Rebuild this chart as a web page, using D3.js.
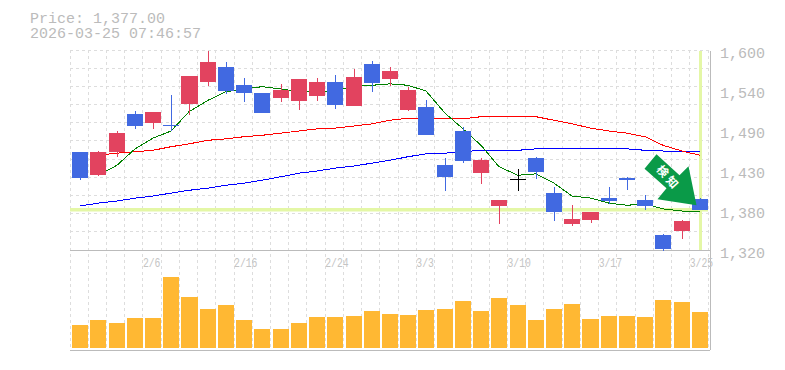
<!DOCTYPE html>
<html>
<head>
<meta charset="utf-8">
<script src="https://cdn.jsdelivr.net/npm/d3@7"></script>
<style>
  html, body { margin: 0; padding: 0; background: #fff; }
  svg { display: block; }
  text { font-family: "Liberation Mono", monospace; fill: #bbb; }
</style>
</head>
<body>
<div id="chart"></div>
<script>
var dates = ["2/2","2/3","2/4","2/5","2/6","2/9","2/10","2/12","2/13","2/16","2/17","2/18","2/19","2/20","2/24",
             "2/25","2/26","2/27","3/2","3/3","3/4","3/5","3/6","3/9","3/10","3/11","3/12","3/13","3/16","3/17",
             "3/18","3/19","3/23","3/24","3/25"];
var shown_dates = ["2/6","2/16","2/24","3/3","3/10","3/17","3/25"];
var open_values = [1459,1426,1459,1512,1499,1496,1526,1557,1578,1552,1541,1534,1530,1537,1557,1523,1582,1561,1517,1522,1440,1488,1429,1383,1421,1450,1401,1358,1363,1394,1422,1391,1342,1348,1393];
var close_values = [1422,1459,1485,1495,1515,1495,1565,1585,1544,1541,1513,1545,1561,1557,1524,1564,1555,1572,1545,1482,1424,1446,1447,1391,1421,1431,1375,1365,1375,1390,1419,1383,1323,1362,1377];
var high_values = [1459,1460,1488,1516,1515,1538,1565,1600,1585,1562,1541,1554,1561,1562,1566,1575,1586,1578,1550,1531,1450,1494,1450,1391,1435,1452,1410,1384,1375,1410,1424,1398,1344,1363,1394];
var low_values = [1419,1425,1452,1491,1491,1488,1510,1551,1540,1529,1513,1529,1517,1530,1519,1523,1543,1551,1516,1482,1404,1443,1414,1358,1404,1421,1362,1355,1359,1386,1405,1377,1320,1337,1377];
var ma_short = [null,1426,1440,1463,1478,1488,1515,1531,1543,1547,1550,1547,1543,1543,1544,1551,1552,1554,1552,1544,1513,1491,1468,1438,1426,1428,1415,1397,1394,1387,1384,1386,1379,1376,1375];
var ma_mid = [null,1454,1457,1459,1461,1466,1470,1475,1477,1480,1482,1485,1488,1491,1492,1495,1498,1503,1506,1506,1505,1505,1508,1508,1508,1508,1503,1498,1492,1488,1485,1480,1468,1460,1454];
var ma_long = [1383,1387,1390,1394,1397,1401,1405,1408,1412,1415,1419,1424,1429,1432,1436,1439,1443,1447,1452,1456,1457,1459,1461,1461,1461,1463,1463,1463,1463,1463,1463,1461,1460,1459,1459];
var volumes = [23,28,25,30,30,71,51,39,43,28,19,19,25,31,31,32,37,34,33,38,39,47,37,50,43,28,39,44,29,32,32,31,48,46,36];
var price_ticks = [1600,1544,1488,1432,1376,1320];
var current_price = 1377;
var title_lines = ["Price: 1,377.00", "2026-03-25 07:46:57"];
var signal_label = ["検", "知"];

var colors = new Map([
    ["up", "#e2435f"], ["down", "#4169e1"], ["flat", "#000"],
    ["short", "#008000"], ["mid", "#f00"], ["long", "#00f"],
    ["volume", "#ffb833"], ["grid", "#ddd"], ["frame", "#bbb"],
    ["now", "#e4f7a6"], ["signal", "#0a9a48"]
]);

var total_w = 785, total_h = 370;
var left = 70, right = 708, price_top = 51, price_bottom = 251, panel_split = 250, volume_bottom = 348, frame_bottom = 350;

var svg = d3.select("#chart").append("svg")
            .attr("width", total_w)
            .attr("height", total_h);

// candles sit 1px right of the grid cells
var xscale = d3.scaleBand()
               .domain(dates)
               .range([left + 1, right + 1])
               .paddingInner(0.12)
               .paddingOuter(0.06);
var yscale = d3.scaleLinear().domain([1320, 1600]).range([price_bottom, price_top]);
var vscale = d3.scaleLinear().domain([0, 100]).range([volume_bottom, volume_bottom - 100]);
var gridx = d3.scaleLinear().domain([0, dates.length]).range([left, right]);
var gridy = d3.scaleLinear().domain([0, 11]).range([panel_split - 200, panel_split]);

function center(i) { return Math.round(xscale(dates[i]) + xscale.bandwidth() / 2); }

// Grid
var grid = svg.append("g")
              .attr("stroke", colors.get("grid"))
              .attr("stroke-dasharray", "3,3")
              .attr("shape-rendering", "crispEdges");
grid.selectAll(".vgrid").data(d3.range(dates.length + 1)).enter().append("line")
    .attr("x1", function(d) { return gridx(d); }).attr("x2", function(d) { return gridx(d); })
    .attr("y1", panel_split - 200).attr("y2", frame_bottom);
grid.selectAll(".hgrid").data(d3.range(11)).enter().append("line")
    .attr("x1", left).attr("x2", right + 2)
    .attr("y1", function(d) { return gridy(d); }).attr("y2", function(d) { return gridy(d); });

// Current price + current day
var lastx = center(dates.length - 1) + 0.5;
svg.append("line").attr("x1", left).attr("x2", right)
   .attr("y1", yscale(current_price) - 0.5).attr("y2", yscale(current_price) - 0.5)
   .attr("stroke", colors.get("now")).attr("stroke-width", 3.5);
svg.append("line").attr("x1", lastx).attr("x2", lastx)
   .attr("y1", price_top).attr("y2", panel_split)
   .attr("stroke", colors.get("now")).attr("stroke-width", 3);

// Frame
var frame = svg.append("g").attr("stroke", colors.get("frame")).attr("shape-rendering", "crispEdges");
frame.append("line").attr("x1", left).attr("x2", right + 2).attr("y1", panel_split).attr("y2", panel_split);
frame.append("line").attr("x1", left).attr("x2", right + 2).attr("y1", frame_bottom).attr("y2", frame_bottom);
frame.append("line").attr("x1", right + 2).attr("x2", right + 2).attr("y1", price_top).attr("y2", frame_bottom);

// Moving averages
var ma_line = d3.line()
                .defined(function(d) { return d != null; })
                .x(function(d, i) { return center(i); })
                .y(function(d) { return yscale(d); });
[["long", ma_long], ["mid", ma_mid], ["short", ma_short]].forEach(function(m) {
    svg.append("path")
       .attr("d", ma_line(m[1]))
       .attr("fill", "none")
       .attr("stroke", colors.get(m[0]))
       .attr("stroke-width", 1)
       .attr("shape-rendering", "crispEdges");
});

// Candles
function candleColor(i) {
    if (close_values[i] > open_values[i]) return colors.get("up");
    if (close_values[i] < open_values[i]) return colors.get("down");
    return colors.get("flat");
}
var candles = svg.selectAll(".candle").data(dates).enter().append("g")
                 .attr("class", "candle")
                 .attr("shape-rendering", "crispEdges");
candles.append("line")
       .attr("x1", function(d, i) { return center(i); })
       .attr("x2", function(d, i) { return center(i); })
       .attr("y1", function(d, i) { return yscale(high_values[i]); })
       .attr("y2", function(d, i) { return yscale(low_values[i]); })
       .attr("stroke", function(d, i) { return candleColor(i); });
candles.append("rect")
       .attr("x", function(d) { return xscale(d); })
       .attr("width", xscale.bandwidth())
       .attr("y", function(d, i) { return yscale(Math.max(open_values[i], close_values[i])); })
       .attr("height", function(d, i) { return Math.max(1, Math.abs(yscale(open_values[i]) - yscale(close_values[i]))); })
       .attr("fill", function(d, i) { return candleColor(i); });

// Volume
svg.selectAll(".bar").data(volumes).enter().append("rect")
   .attr("class", "bar")
   .attr("x", function(d, i) { return xscale(dates[i]); })
   .attr("width", xscale.bandwidth())
   .attr("y", function(d) { return vscale(d); })
   .attr("height", function(d) { return volume_bottom - vscale(d); })
   .attr("fill", colors.get("volume"))
   .attr("shape-rendering", "crispEdges");

// Price axis
var yaxis = d3.axisRight(yscale)
              .tickValues(price_ticks)
              .tickSize(0)
              .tickFormat(function(d) { return d3.format(",")(Math.round(d / 10) * 10); });
var gy = svg.append("g")
            .attr("transform", "translate(720,2)")
            .call(yaxis);
gy.select(".domain").remove();
gy.selectAll("text").attr("x", 0).attr("font-size", 15).attr("font-family", null).attr("fill", null);
gy.attr("font-family", null).attr("font-size", null);

// Date labels start at their grid line
svg.selectAll(".date").data(shown_dates).enter().append("text")
   .attr("class", "date")
   .attr("x", function(d) { return gridx(dates.indexOf(d)); })
   .attr("y", 266.5)
   .attr("font-size", 12)
   .attr("textLength", function(d) { return d.length * 5.85; })
   .attr("lengthAdjust", "spacingAndGlyphs")
   .style("fill", "#c4c4c4")
   .text(function(d) { return d; });

// Title
svg.selectAll(".title").data(title_lines).enter().append("text")
   .attr("class", "title")
   .attr("x", 30)
   .attr("y", function(d, i) { return 23 + i * 15; })
   .attr("font-size", 15)
   .text(function(d) { return d; });

// Signal arrow, tip anchored to the last candle
var arrow = svg.append("g")
               .attr("transform", "translate(" + (lastx - 4) + "," + (yscale(current_price) - 6) + ")");
arrow.append("path")
     .attr("d", "M-40,-50L-17,-29L-8,-38L0,1L-39,-5L-30,-16L-52,-35.5Z")
     .attr("fill", colors.get("signal"));
arrow.selectAll("text").data(signal_label).enter().append("text")
     .attr("transform", function(d, i) { return "translate(" + (-34 + i * 9.5) + "," + (-33 + i * 11) + ") rotate(48)"; })
     .attr("text-anchor", "middle")
     .attr("dy", "0.35em")
     .attr("font-size", 11.5)
     .attr("font-weight", "bold")
     .style("font-family", "'Noto Sans CJK JP'")
     .style("fill", "#fff")
     .text(function(d) { return d; });
</script>
</body>
</html>
